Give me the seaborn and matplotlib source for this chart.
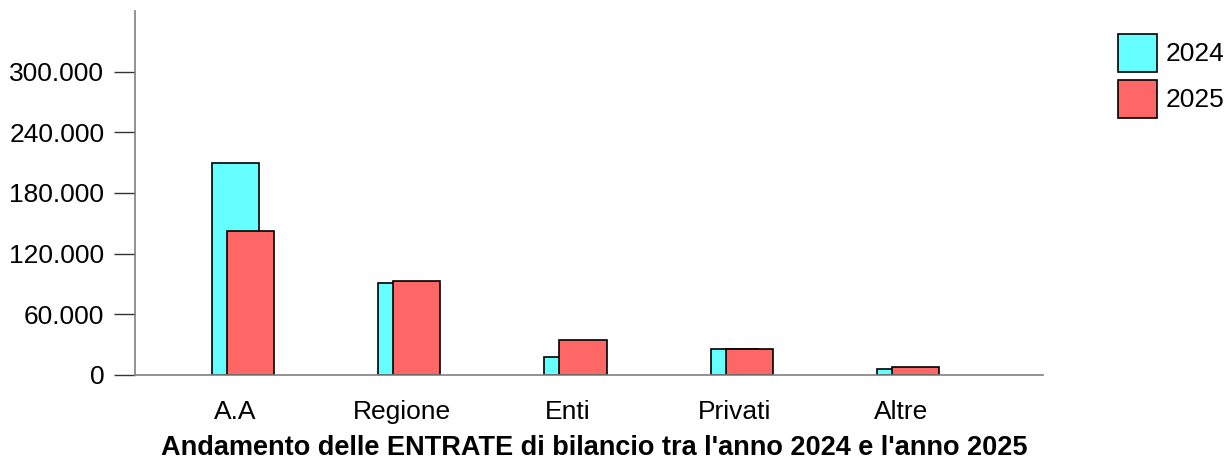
import numpy as np
import pandas as pd
import matplotlib
matplotlib.use("Agg")
import matplotlib.pyplot as plt
import seaborn as sns
from matplotlib.patches import Patch

categories = ["A.A", "Regione", "Enti", "Privati", "Altre"]
values_2024 = [209500, 91000, 18100, 25400, 5600]
values_2025 = [142800, 92700, 34300, 25400, 7600]
series_names = ["2024", "2025"]
ytick_values = [0, 60000, 120000, 180000, 240000, 300000]
ytick_labels = ["0", "60.000", "120.000", "180.000", "240.000", "300.000"]
title = "Andamento delle ENTRATE di bilancio tra l'anno 2024 e l'anno 2025"

sns.set_theme(style="white")
plt.rcParams["font.family"] = ["Liberation Sans", "DejaVu Sans"]
plt.rcParams["text.color"] = "black"
plt.rcParams["xtick.color"] = "black"
plt.rcParams["ytick.color"] = "black"

c2024 = "#66FFFF"
c2025 = "#FF6666"
bar_w = 0.286
offset = 0.09
fs = 19

pos = np.arange(len(categories), dtype=float)
df24 = pd.DataFrame({"x": pos, "v": values_2024})
df25 = pd.DataFrame({"x": pos + offset, "v": values_2025})

fig = plt.figure(figsize=(12.25, 4.59), dpi=100)
ax = fig.add_axes([135/1225, 1 - 375/459, (1043-135)/1225, (375-11)/459])

sns.barplot(data=df24, x="x", y="v", native_scale=True, width=bar_w,
            color=c2024, saturation=1, edgecolor="black", linewidth=1.2, ax=ax)
sns.barplot(data=df25, x="x", y="v", native_scale=True, width=bar_w,
            color=c2025, saturation=1, edgecolor="black", linewidth=1.2, ax=ax)

ax.set_xlim(-0.604, 4.856)
ax.set_ylim(0, 360000)
ax.set_xticks(pos)
ax.set_xticklabels(categories, fontsize=fs, color="black")
ax.set_yticks(ytick_values)
ax.set_yticklabels(ytick_labels, fontsize=fs, color="black")
ax.set_xlabel("")
ax.set_ylabel("")
ax.tick_params(axis="x", length=0, pad=18)
ax.tick_params(axis="y", length=15, width=1, color="#333333", direction="out", pad=7, left=True)
for s in ["top", "right"]:
    ax.spines[s].set_visible(False)
for s in ["left", "bottom"]:
    ax.spines[s].set_color("#808080")
    ax.spines[s].set_linewidth(1.2)

fig.text((135+1043)/2/1225 + 0.004, 1 - 448/459, title, ha="center", va="center",
         fontsize=19.5, fontweight="bold", color="black")

handles = [Patch(facecolor=c2024, edgecolor="black", linewidth=1.2),
           Patch(facecolor=c2025, edgecolor="black", linewidth=1.2)]
fig.legend(handles, series_names, loc="upper left",
           bbox_to_anchor=(1118/1225, 1 - 34/459), frameon=False, fontsize=fs,
           handlelength=1.48, handleheight=1.84, handletextpad=0.34,
           labelspacing=0.29, borderaxespad=0, borderpad=0)

fig.savefig("out.png", dpi=100)
